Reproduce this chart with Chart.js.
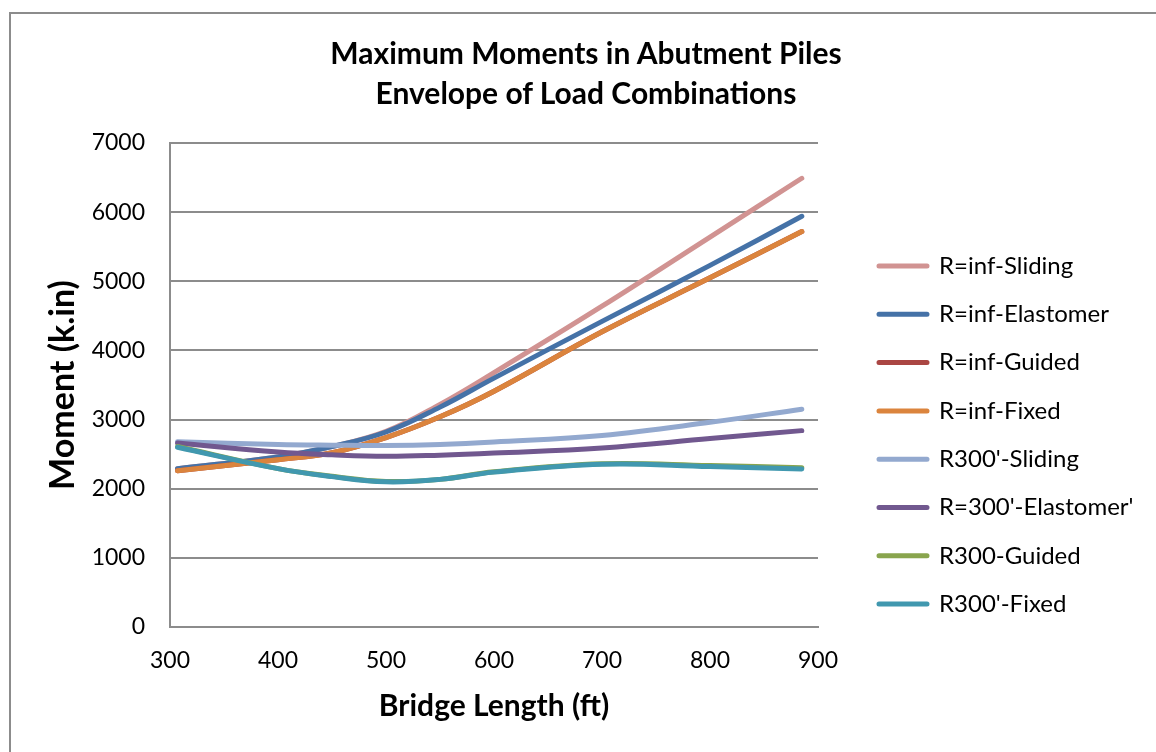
<!DOCTYPE html>
<html>
<head>
<meta charset="utf-8">
<title>Maximum Moments in Abutment Piles</title>
<script src="https://cdn.jsdelivr.net/npm/chart.js@4.4.1/dist/chart.umd.min.js"></script>
<style>
  body { margin: 0; background: #fff; overflow: hidden; }
  #frame { position: absolute; left: 9px; top: 12px; width: 1300px; height: 900px;
           border-left: 2px solid #8c8c8c; border-top: 2px solid #8c8c8c; }
  #chart { position: absolute; left: 0; top: 0; }
  #title { position: absolute; left: 0; top: 32px; width: 1172px; text-align: center;
           font: bold 30px Lato, sans-serif; line-height: 40px; color: #000; }
</style>
</head>
<body>
<div id="frame"></div>
<canvas id="chart" width="1156" height="752"></canvas>
<div id="title">Maximum Moments in Abutment Piles<br>Envelope of Load Combinations</div>
<script>
// bridge lengths (ft) where the curves were read
const lengths = [307, 400, 450, 500, 550, 600, 700, 800, 885];

// moments (k.in)
const infSliding    = [2290, 2460, 2610, 2830, 3220, 3680, 4640, 5640, 6490];
const infElastomer  = [2290, 2460, 2610, 2820, 3180, 3600, 4420, 5230, 5940];
const infGuided     = [2260, 2420, 2520, 2740, 3040, 3410, 4270, 5050, 5720];
const infFixed      = [2260, 2420, 2520, 2740, 3040, 3410, 4270, 5050, 5720];
const r300Sliding   = [2680, 2640, 2630, 2625, 2640, 2675, 2770, 2960, 3150];
const r300Elastomer = [2660, 2530, 2490, 2468, 2485, 2515, 2590, 2725, 2840];
const r300Guided    = [2610, 2290, 2180, 2105, 2135, 2245, 2360, 2335, 2305];
const r300Fixed     = [2600, 2290, 2175, 2100, 2135, 2240, 2355, 2320, 2285];

const seriesNames = ["R=inf-Sliding", "R=inf-Elastomer", "R=inf-Guided", "R=inf-Fixed",
                     "R300'-Sliding", "R=300'-Elastomer'", "R300-Guided", "R300'-Fixed"];
const seriesValues = [infSliding, infElastomer, infGuided, infFixed,
                      r300Sliding, r300Elastomer, r300Guided, r300Fixed];
const seriesColors = ["#D19392", "#4572A7", "#AA4643", "#DB843D",
                      "#93A9CF", "#71588F", "#89A54E", "#4198AF"];

const xTicks = { min: 300, max: 900, step: 100 };
const yTicks = { min: 0, max: 7000, step: 1000 };

Chart.defaults.font.family = "Lato";
Chart.defaults.color = "#000";

const legendFont = 24;
const legendPad = 24.3;
const legendBox = 48;

const datasets = seriesNames.map((name, i) => ({
    label: name,
    data: seriesValues[i],
    borderColor: seriesColors[i],
    backgroundColor: seriesColors[i],
    borderWidth: 5,
    borderCapStyle: 'round',
    borderJoinStyle: 'round',
    pointRadius: 0,
    tension: 0.4,
    order: -i // later series on top, like excel does it
}));

// legend lives in the free space right of the plot
const legendSpot = {
    id: 'legendSpot',
    afterLayout(chart) {
        const lg = chart.legend;
        const w = lg.width;
        const colHeight = seriesNames.length * (legendFont + legendPad);
        lg.left = 879 - legendPad;
        lg.right = lg.left + w;
        lg.top = 254 - legendPad;
        lg.bottom = lg.top + legendPad + colHeight;
    }
};

new Chart(document.getElementById("chart"), {
    type: 'line',
    data: { labels: lengths, datasets: datasets },
    options: {
        responsive: false,
        animation: false,
        layout: { padding: { left: 16, top: 143, right: 338, bottom: 20 } },
        plugins: {
            legend: {
                position: 'chartArea',
                labels: {
                    font: { size: legendFont },
                    boxWidth: legendBox,
                    boxHeight: 0,
                    padding: legendPad,
                    sort: (a, b) => a.datasetIndex - b.datasetIndex
                }
            },
            tooltip: { enabled: false }
        },
        scales: {
            x: {
                type: 'linear',
                min: xTicks.min,
                max: xTicks.max,
                ticks: { stepSize: xTicks.step, font: { size: 23 }, padding: 20, callback: v => String(v) },
                grid: { display: false, drawTicks: false },
                border: { color: '#8c8c8c', width: 2 },
                title: {
                    display: true,
                    text: 'Bridge Length (ft)',
                    font: { size: 30, weight: 'bold' },
                    padding: { top: 0, bottom: 8 }
                },
                afterFit: scale => { scale.height = 105; }
            },
            y: {
                min: yTicks.min,
                max: yTicks.max,
                ticks: { stepSize: yTicks.step, font: { size: 23 }, padding: 25, callback: v => String(v) },
                grid: { color: '#8c8c8c', lineWidth: 2, drawTicks: false },
                border: { color: '#8c8c8c', width: 2 },
                title: {
                    display: true,
                    text: 'Moment (k.in)',
                    font: { size: 34, weight: 'bold' },
                    padding: { top: 26.6, bottom: 0 }
                },
                afterFit: scale => { scale.width = 154; }
            }
        }
    },
    plugins: [legendSpot]
});
</script>
</body>
</html>
